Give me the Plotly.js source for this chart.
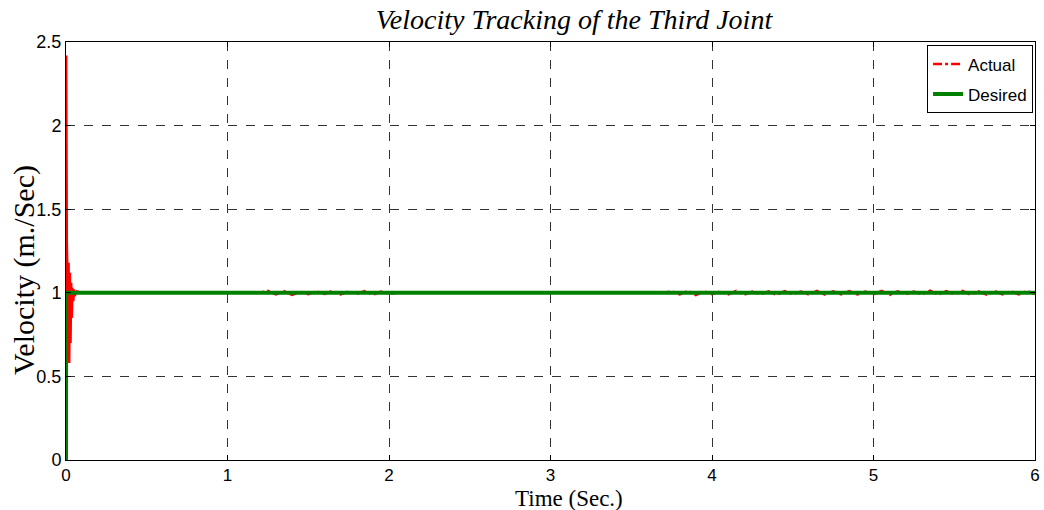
<!DOCTYPE html>
<html>
<head>
<meta charset="utf-8">
<script src="https://cdn.plot.ly/plotly-3.0.1.min.js"></script>
<style>html,body{margin:0;padding:0;background:#fff;}#chart{width:1044px;height:510px;}</style>
</head>
<body>
<div id="chart"></div>
<script>
// Actual velocity (red, dash-dot)
const timeActual = [0, 0.001, 0.003, 0.005, 0.008, 0.012, 0.016, 0.020, 0.024, 0.028, 0.032, 0.036, 0.040, 0.045, 0.050, 0.055, 0.060, 0.10, 1.20,
  1.25, 1.30, 1.35, 1.40, 1.45, 1.50, 1.55, 1.60, 1.65, 1.70, 1.75, 1.80, 1.85, 1.90, 1.95, 2.00, 2.05, 3.70,
  3.75, 3.80, 3.85, 3.90, 3.95, 4.00, 4.05, 4.10, 4.15, 4.20, 4.25, 4.30, 4.35, 4.40, 4.45, 4.50, 4.55, 4.60,
  4.65, 4.70, 4.75, 4.80, 4.85, 4.90, 4.95, 5.00, 5.05, 5.10, 5.15, 5.20, 5.25, 5.30, 5.35, 5.40, 5.45, 5.50,
  5.55, 5.60, 5.65, 5.70, 5.75, 5.80, 5.85, 5.90, 5.95, 6.00];
const velActual = [0, 2.42, 1.90, 1.30, 1.15, 0.75, 1.18, 0.58, 1.12, 0.70, 1.06, 0.85, 1.03, 0.95, 1.02, 0.98, 1.01, 1.00, 1.00,
  1.012, 0.990, 1.010, 0.988, 1.006, 0.991, 1.009, 0.993, 1.011, 0.990, 1.008, 0.994, 1.010, 0.989, 1.007, 0.995, 1.000, 1.000,
  1.009, 0.991, 1.012, 0.986, 1.010, 0.992, 1.008, 0.990, 1.011, 0.989, 1.007, 0.991, 1.009, 0.988, 1.010, 0.992, 1.008, 0.990,
  1.011, 0.989, 1.009, 0.991, 1.010, 0.990, 1.007, 0.992, 1.011, 0.988, 1.009, 0.991, 1.008, 0.990, 1.013, 0.989, 1.010, 0.992,
  1.011, 0.990, 1.008, 0.989, 1.010, 0.991, 1.009, 0.990, 1.011, 0.992];
// Desired velocity (green, solid)
const timeDesired = [0, 0.0005, 6];
const velDesired = [0, 1, 1];

const xTicks = [0, 1, 2, 3, 4, 5, 6];
const yTicks = [0, 0.5, 1, 1.5, 2, 2.5];
const yTickLabels = ['0', '0.5', '1', '1.5', '2', '2.5'];

// the fast initial transient (first 17 samples) is drawn solid so that its spikes stay visible
const nTransient = 17;

const traces = [
  {x: timeActual.slice(0, nTransient), y: velActual.slice(0, nTransient), type: 'scatter', mode: 'lines', name: 'Actual',
   legendgroup: 'a', showlegend: false, line: {color: '#ff0000', width: 2.5}},
  {x: timeActual.slice(nTransient - 1), y: velActual.slice(nTransient - 1), type: 'scatter', mode: 'lines', name: 'Actual',
   legendgroup: 'a', line: {color: '#ff0000', width: 2.5, dash: 'dashdot'}},
  {x: timeDesired, y: velDesired, type: 'scatter', mode: 'lines', name: 'Desired', legendgroup: 'b',
   line: {color: '#008000', width: 4}}
];

const serif = 'Liberation Serif, Times New Roman, serif';
const axisFont = {family: 'Liberation Sans, Arial, sans-serif', size: 17, color: '#000'};
const layout = {
  width: 1044, height: 510,
  margin: {l: 66, r: 9, t: 42, b: 50},
  paper_bgcolor: '#fff', plot_bgcolor: '#fff',
  title: {text: '<i>Velocity Tracking of the Third Joint</i>', font: {family: serif, size: 28, color: '#000'},
          x: 574 / 1044, xanchor: 'center', y: 1 - 19 / 510, yanchor: 'middle', yref: 'container', xref: 'container'},
  xaxis: {range: [0, 6], tickvals: xTicks, ticktext: xTicks.map(String), tickfont: axisFont,
          ticks: 'inside', ticklen: 5, tickcolor: '#000', showline: true, linecolor: '#000', linewidth: 1, mirror: 'ticks',
          showgrid: true, gridcolor: '#333', griddash: 'dash', gridwidth: 1, zeroline: false, automargin: false},
  yaxis: {range: [0, 2.5], tickvals: yTicks, ticktext: yTickLabels, tickfont: {family: 'Liberation Sans, Arial, sans-serif', size: 18, color: '#000'},
          ticks: 'inside', ticklen: 5, tickcolor: '#000', showline: true, linecolor: '#000', linewidth: 1, mirror: 'ticks',
          showgrid: true, gridcolor: '#333', griddash: 'dash', gridwidth: 1, zeroline: false, automargin: false},
  annotations: [
    {text: 'Time (Sec.)', xref: 'paper', yref: 'paper', x: (569 - 66) / 969, y: -(512 - 460) / 418,
     xanchor: 'center', yanchor: 'bottom', showarrow: false, borderpad: 0, font: {family: serif, size: 23, color: '#000'}},
    {text: 'Velocity (m./Sec)', xref: 'paper', yref: 'paper', x: -(66 - 24) / 969, y: (460 - 270) / 418,
     xanchor: 'center', yanchor: 'middle', textangle: -90, showarrow: false, font: {family: serif, size: 30, color: '#000'}}
  ],
  showlegend: true,
  legend: {x: 0.998, xanchor: 'right', y: 0.992, yanchor: 'top', bgcolor: '#fff', bordercolor: '#000', borderwidth: 1,
           traceorder: 'grouped', tracegroupgap: 5,
           font: {family: 'Liberation Sans, Arial, sans-serif', size: 17, color: '#000'}}
};

Plotly.newPlot('chart', traces, layout, {displayModeBar: false, staticPlot: true});
</script>
</body>
</html>
